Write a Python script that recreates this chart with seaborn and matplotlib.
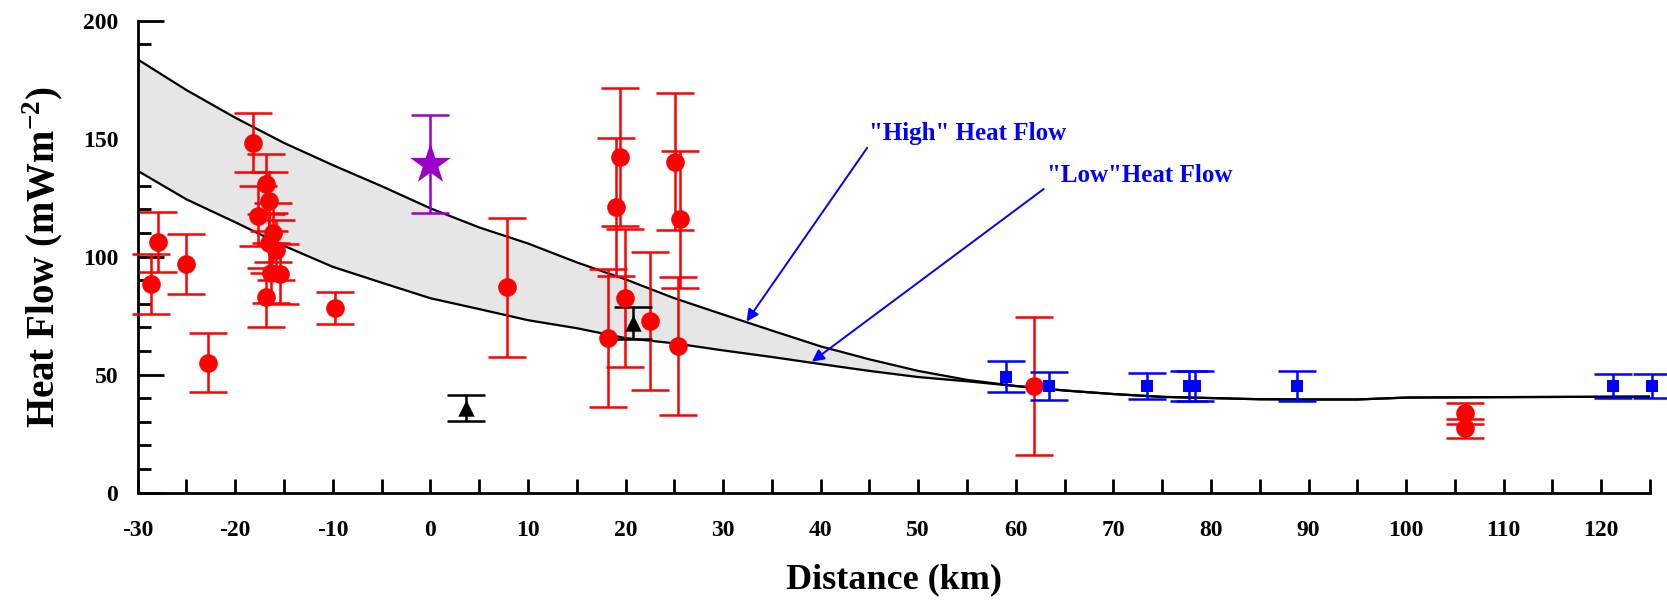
"""
Heat flow profile vs distance, with "high" / "low" model band.
"""

import numpy as np
import pandas as pd
import matplotlib
matplotlib.use("Agg")
import matplotlib.pyplot as plt
import seaborn as sns

# model curves (km, mW m^-2)
dist = [-30, -25, -20, -15, -10, -5, 0, 5, 10, 15, 20, 25, 30, 35, 40, 45,
        50, 55, 60, 65, 70, 75, 80, 85, 90, 95, 100, 110, 125]
high_hf = [183.6, 170.6, 158.9, 148.2, 138.8, 129.9, 120.5, 112.4, 105.6, 97.6,
           90.4, 82.4, 75.5, 68.7, 62.0, 56.5, 51.6, 47.8, 45.2, 43.3, 41.8,
           40.6, 40.1, 39.6, 39.5, 39.5, 40.3, 40.5, 40.7]
low_hf = [136.4, 124.3, 114.6, 104.6, 95.7, 89.0, 82.4, 77.8, 73.1, 69.7,
          65.5, 63.3, 60.3, 57.5, 54.5, 51.6, 49.0, 47.2, 45.2, 43.3, 41.8,
          40.6, 40.1, 39.6, 39.5, 39.5, 40.3, 40.5, 40.7]

# red circles
red_x = [-28.6, -27.9, -25.0, -22.8, -18.2, -16.9, -16.55, -17.7, -16.1, -16.5,
         -15.8, -16.3, -15.4, -16.8, -9.8, 7.9, 19.45, 19.0, 19.9, 18.2, 22.5,
         25.1, 25.6, 25.4, 61.9, 106.0, 106.0]
red_y = [88.4, 106.2, 97.0, 55.1, 148.3, 130.8, 123.5, 117.2, 110.2, 105.9,
         102.8, 93.0, 92.7, 82.8, 78.1, 87.0, 142.1, 120.9, 82.4, 65.7, 72.8,
         140.3, 115.8, 62.3, 45.3, 33.6, 27.2]
red_err = [12.6, 12.6, 12.6, 12.6, 12.6, 12.6, 12.6, 12.6, 12.6, 12.6,
           12.6, 12.6, 12.6, 12.6, 6.8, 29.3, 29.2, 29.2, 29.2, 29.2, 29.2,
           29.2, 29.2, 29.2, 29.2, 4.5, 4.2]

# blue squares
blue_x = [59.0, 63.4, 73.4, 77.7, 78.4, 88.8, 121.2, 125.2]
blue_y = [49.2, 45.3, 45.3, 45.3, 45.3, 45.3, 45.3, 45.3]
blue_err = [6.7, 5.9, 5.5, 6.3, 6.3, 6.3, 5.0, 5.0]

# black triangles
tri_x = [3.7, 20.8]
tri_y = [36.0, 71.8]
tri_err = [5.5, 6.8]

# purple star
star_x = [0.0]
star_y = [139.3]
star_err = [20.7]

sns.set_theme(style="ticks")
plt.rcParams["font.family"] = ["Liberation Serif", "DejaVu Serif"]
plt.rcParams["font.weight"] = "bold"
plt.rcParams["text.color"] = "black"
plt.rcParams["axes.labelcolor"] = "black"
plt.rcParams["xtick.color"] = "black"
plt.rcParams["ytick.color"] = "black"
plt.rcParams["axes.unicode_minus"] = False
plt.rcParams["mathtext.fontset"] = "custom"
plt.rcParams["mathtext.rm"] = "Liberation Serif:bold"
plt.rcParams["mathtext.bf"] = "Liberation Serif:bold"

fig = plt.figure(figsize=(16.67, 6.02), dpi=100)
ax = fig.add_axes([0.0826, 0.1816, 0.9072, 0.784])

# model band
curves = pd.DataFrame({"dist": dist, "high": high_hf, "low": low_hf})
ax.fill_between(curves["dist"], curves["low"], curves["high"],
                color="#e6e6e6", zorder=1)
sns.lineplot(data=curves, x="dist", y="high", color="black", lw=1.6,
             ax=ax, zorder=2)
sns.lineplot(data=curves, x="dist", y="low", color="black", lw=1.6,
             ax=ax, zorder=2)

groups = [
    (red_x, red_y, red_err, "red", "o", 180),
    (blue_x, blue_y, blue_err, "#0000ff", "s", 75),
    (tri_x, tri_y, tri_err, "black", "^", 140),
    (star_x, star_y, star_err, "#9900cc", "*", 950),
]
for xs, ys, es, col, mk, sz in groups:
    ax.errorbar(xs, ys, yerr=es, fmt="none", ecolor=col, elinewidth=1.8,
                capsize=13.5, capthick=1.8, zorder=3, clip_on=False)
    sns.scatterplot(x=xs, y=ys, color=col, marker=mk, s=sz, linewidth=0,
                    ax=ax, zorder=4, clip_on=False)

# annotations
ax.annotate('"High" Heat Flow', xy=(32.4, 72.5), xytext=(45.0, 152.4),
            color="#0000ff", fontsize=18, fontweight="bold", va="center",
            arrowprops=dict(arrowstyle="-|>", color="#0000ff", lw=1.4,
                            shrinkA=0, shrinkB=0, mutation_scale=18,
                            relpos=(0.0, 0.0)))
ax.annotate('"Low"Heat Flow', xy=(39.1, 55.5), xytext=(63.2, 134.6),
            color="#0000ff", fontsize=18, fontweight="bold", va="center",
            arrowprops=dict(arrowstyle="-|>", color="#0000ff", lw=1.4,
                            shrinkA=0, shrinkB=0, mutation_scale=18,
                            relpos=(0.0, 0.0)))

ax.set_xlim(-30, 125)
ax.set_ylim(0, 200)
ax.set_xticks(np.arange(-30, 121, 10))
ax.set_xticks(np.arange(-30, 126, 5), minor=True)
ax.set_yticks(np.arange(0, 201, 50))
ax.set_yticks(np.arange(0, 201, 10), minor=True)
ax.tick_params(axis="x", which="both", direction="in", length=10, width=2,
               labelsize=17, pad=20)
ax.tick_params(axis="y", which="major", direction="in", length=19, width=2,
               labelsize=17, pad=14)
ax.tick_params(axis="y", which="minor", direction="in", length=9, width=2)
for lab in ax.get_xticklabels() + ax.get_yticklabels():
    lab.set_fontweight("bold")

sns.despine(ax=ax)
for side in ["left", "bottom"]:
    ax.spines[side].set_linewidth(2)
    ax.spines[side].set_color("black")

ax.set_xlabel("Distance (km)", fontsize=26, fontweight="bold", labelpad=16)
ax.set_ylabel("Heat Flow (mWm$^{\\mathbf{-2}}$)", fontsize=28,
              fontweight="bold", labelpad=12)

fig.savefig("out.png", dpi=100)
